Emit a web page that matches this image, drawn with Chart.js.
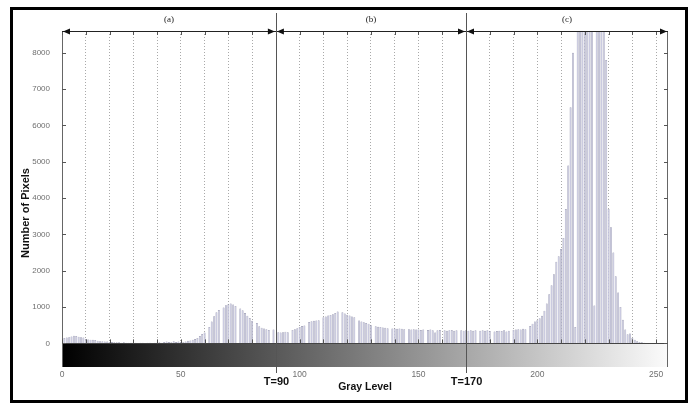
<!DOCTYPE html>
<html><head><meta charset="utf-8">
<script src="https://cdn.jsdelivr.net/npm/chart.js@4.4.0/dist/chart.umd.min.js"></script>
<style>html,body{margin:0;padding:0;background:#fff;overflow:hidden}#wrap{width:694px;height:403px}</style>
</head><body><div id="wrap"><canvas id="c" width="694" height="403"></canvas></div>
<script>
// Histogram counts per gray level (bins above 8600 are clipped in the original)
const counts0to63 = [130,150,160,170,190,210,200,180,170,160, 120,110,100,100,90,70,60,60,50,50,
  40,40,30,30,30,20,30,20,20,20, 20,20,10,20,20,10,20,20,10,20, 20,30,20,40,50,40,30,60,40,50,
  40,30,50,70,80,100,120,150,200,260, 300,0,450,600];
const counts64to127 = [750,860,920,0,990,1050, 1080,1100,1070,1030,0,960,910,840,760,700,
  620,0,560,470,430,410,390,370,0,380, 0,310,300,310,320,310,0,370,390,420,
  450,480,490,0,590,610,620,630,640,0, 720,740,770,780,800,840,880,0,860,820,
  790,770,740,720,0,630,600,580];
const counts128to191 = [560,540, 500,0,470,460,450,440,430,420,0,410, 410,400,410,400,390,0,390,380,390,380,
  380,370,380,0,370,380,360,300,360,370, 0,360,350,360,370,350,360,0,360,350,
  360,350,360,350,360,0,350,360,350,360, 340,0,330,340,350,340,360,330,350,0, 370,380];
const counts192to255 = [390,380,400,390,0,480,540,600, 640,690,760,900,1100,1350,1600,1900,2250,2400,
  2600,2900,3700,4900,6500,8000,450,9800,11500,13000, 14200,14800,14500,13500,1040,12500,11200,10000,9100,7800,
  3700,3200,2500,1850,1400,1000,650,380,250,270, 150,100,60,40,30,20,10,10,10,0,
  0,0,0,0,0,0];
const counts = counts0to63.concat(counts64to127, counts128to191, counts192to255);
const grayLevels = counts.map((_, i) => i);

const xTickLabels = [0, 50, 100, 150, 200, 250];
const yTickLabels = [0, 1000, 2000, 3000, 4000, 5000, 6000, 7000, 8000];
const gridStep = 10;
const thresholds = [90, 170];
const thresholdLabels = ['T=90', 'T=170'];
const segmentLabels = ['(a)', '(b)', '(c)'];
const xTitle = 'Gray Level';
const yTitle = 'Number of Pixels';
const xRange = [0, 255];
const yRange = [-650, 8600];

const gridValues = [];
for (let v = xRange[0]; v <= 250; v += gridStep) gridValues.push(v);

const SANS = '"Liberation Sans", Arial, sans-serif';

function arrow(ctx, tipX, y, dir) {
  ctx.beginPath();
  ctx.moveTo(tipX, y);
  ctx.lineTo(tipX - dir * 7, y - 3);
  ctx.lineTo(tipX - dir * 7, y + 3);
  ctx.closePath();
  ctx.fill();
}

const decor = {
  id: 'decor',
  beforeDatasetsDraw(chart) {
    const {ctx, chartArea: a, scales: {y}} = chart;
    const y0 = y.getPixelForValue(0);
    const g = ctx.createLinearGradient(a.left, 0, a.right, 0);
    g.addColorStop(0, '#000000');
    g.addColorStop(1, '#fbfbfb');
    ctx.save();
    ctx.fillStyle = g;
    ctx.fillRect(a.left, y0, a.right - a.left, a.bottom - y0);
    ctx.restore();
  },
  afterDatasetsDraw(chart) {
    const {ctx, chartArea: a, scales: {x, y}} = chart;
    const y0 = y.getPixelForValue(0);
    ctx.save();
    // zero line
    ctx.strokeStyle = '#444';
    ctx.lineWidth = 1;
    ctx.beginPath();
    ctx.moveTo(a.left, Math.round(y0) + 0.5);
    ctx.lineTo(a.right, Math.round(y0) + 0.5);
    ctx.stroke();
    // axis box sides
    ctx.strokeStyle = '#666';
    ctx.beginPath();
    ctx.moveTo(Math.round(a.left) + 0.5, a.top);
    ctx.lineTo(Math.round(a.left) + 0.5, a.bottom);
    ctx.moveTo(Math.round(a.right) - 0.5, a.top);
    ctx.lineTo(Math.round(a.right) - 0.5, a.bottom);
    ctx.stroke();
    // y ticks (inward on both sides)
    ctx.strokeStyle = '#555';
    ctx.beginPath();
    yTickLabels.forEach(v => {
      const py = Math.round(y.getPixelForValue(v)) + 0.5;
      ctx.moveTo(a.left, py); ctx.lineTo(a.left + 4, py);
      ctx.moveTo(a.right, py); ctx.lineTo(a.right - 4, py);
    });
    // x ticks on zero line and on the top line
    gridValues.forEach(v => {
      const px = Math.round(x.getPixelForValue(v)) + 0.5;
      ctx.moveTo(px, y0); ctx.lineTo(px, y0 - 4);
      ctx.moveTo(px, a.top); ctx.lineTo(px, a.top + 4);
    });
    ctx.stroke();
    // top arrow line
    const topY = Math.round(a.top) + 0.5;
    ctx.strokeStyle = '#222';
    ctx.fillStyle = '#111';
    ctx.beginPath();
    ctx.moveTo(a.left, topY); ctx.lineTo(a.right, topY);
    ctx.stroke();
    const bounds = [x.getPixelForValue(xRange[0])].concat(thresholds.map(t => x.getPixelForValue(t)), [x.getPixelForValue(xRange[1])]);
    ctx.font = '9px "Liberation Serif", "Times New Roman", serif';
    ctx.textAlign = 'center';
    ctx.textBaseline = 'middle';
    for (let i = 0; i < bounds.length - 1; i++) {
      arrow(ctx, bounds[i] + 1, topY, -1);
      arrow(ctx, bounds[i + 1] - 1, topY, 1);
      ctx.fillStyle = '#222';
      ctx.fillText(segmentLabels[i], (bounds[i] + bounds[i + 1]) / 2, 20);
      ctx.fillStyle = '#111';
    }
    // threshold lines and labels
    ctx.strokeStyle = '#555';
    ctx.lineWidth = 1;
    ctx.font = 'bold 11px ' + SANS;
    thresholds.forEach((t, i) => {
      const px = Math.round(x.getPixelForValue(t)) + 0.5;
      ctx.beginPath();
      ctx.moveTo(px, 13); ctx.lineTo(px, 373);
      ctx.stroke();
      ctx.fillStyle = '#111';
      ctx.fillText(thresholdLabels[i], px, 382);
    });
    // y axis title
    ctx.save();
    ctx.translate(26, 213);
    ctx.rotate(-Math.PI / 2);
    ctx.font = 'bold 11px ' + SANS;
    ctx.fillStyle = '#111';
    ctx.fillText(yTitle, 0, 0);
    ctx.restore();
    // outer frame
    ctx.strokeStyle = '#000';
    ctx.lineWidth = 3;
    ctx.strokeRect(11.5, 8.5, 675, 393);
    ctx.restore();
  }
};

new Chart(document.getElementById('c'), {
  type: 'bar',
  data: {
    datasets: [{
      data: grayLevels.map((g, i) => ({x: g, y: counts[i]})),
      backgroundColor: '#c6c6de',
      borderColor: '#7e7e9a',
      borderWidth: 0.5,
      barPercentage: 0.8,
      categoryPercentage: 1
    }]
  },
  options: {
    responsive: false,
    animation: false,
    devicePixelRatio: 1,
    layout: {padding: {left: 0, top: 31, right: 26, bottom: 0}},
    plugins: {legend: {display: false}, tooltip: {enabled: false}},
    scales: {
      x: {
        type: 'linear', min: xRange[0], max: xRange[1], offset: false,
        afterBuildTicks: s => { s.ticks = gridValues.map(v => ({value: v})); },
        afterFit: s => { s.height = 36; },
        ticks: {
          autoSkip: false, maxRotation: 0, padding: 3, color: '#6f6f6f',
          font: {family: SANS, size: 8.5},
          callback: v => xTickLabels.includes(v) ? String(v) : ''
        },
        grid: {
          display: true, drawTicks: false, offset: false, lineWidth: 1,
          color: c => (c.tick && c.tick.value > xRange[0] && !thresholds.includes(c.tick.value)) ? '#a9a9a9' : 'rgba(0,0,0,0)'
        },
        border: {display: false, dash: [1, 2]},
        title: {display: true, text: xTitle, color: '#111', font: {family: SANS, size: 10.5, weight: 'bold'}, padding: {top: 0, bottom: 9.5}}
      },
      y: {
        min: yRange[0], max: yRange[1],
        afterBuildTicks: s => { s.ticks = yTickLabels.map(v => ({value: v})); },
        afterFit: s => { s.width = 62; },
        ticks: {padding: 12, color: '#6f6f6f', font: {family: SANS, size: 8}, callback: v => String(v)},
        grid: {display: false, drawTicks: false},
        border: {display: false},
        title: {display: false}
      }
    }
  },
  plugins: [decor]
});
</script>
</body></html>
